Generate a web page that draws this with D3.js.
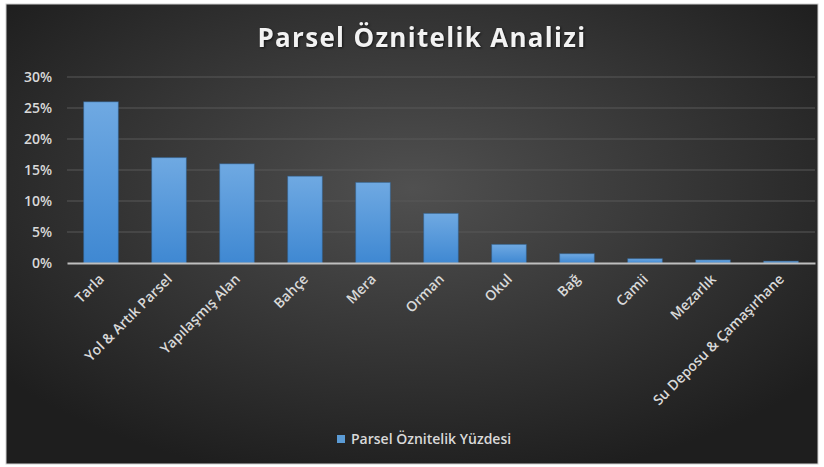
<!DOCTYPE html>
<html>
<head>
<meta charset="utf-8">
<script src="https://cdn.jsdelivr.net/npm/d3@7"></script>
<style>
  body { margin: 0; background: #fff; }
  svg { display: block; font-family: "Open Sans", "Noto Sans", sans-serif; }
</style>
</head>
<body>
<div id="chart"></div>
<script>
// categories and values (percent)
var categories = ["Tarla", "Yol & Artık Parsel", "Yapılaşmış Alan", "Bahçe", "Mera", "Orman", "Okul", "Bağ", "Camii", "Mezarlık", "Su Deposu & Çamaşırhane"];
var values = [26, 17, 16, 14, 13, 8, 3, 1.5, 0.7, 0.5, 0.3];
var yTicks = [0, 5, 10, 15, 20, 25, 30];
var seriesName = "Parsel Öznitelik Yüzdesi";
var title = "Parsel Öznitelik Analizi";

var W = 824, H = 467;
var margin = {top: 77, right: 9, bottom: 204, left: 67};
var width = W - margin.left - margin.right,
    height = H - margin.top - margin.bottom;

var svg = d3.select("#chart").append("svg")
  .attr("width", W)
  .attr("height", H);

var defs = svg.append("defs");
var bg = defs.append("radialGradient").attr("id", "bg")
  .attr("cx", "50%").attr("cy", "40%").attr("r", "65%");
bg.append("stop").attr("offset", "0%").attr("stop-color", "#505050");
bg.append("stop").attr("offset", "100%").attr("stop-color", "#1e1e1e");

var barGrad = defs.append("linearGradient").attr("id", "bar")
  .attr("x1", 0).attr("y1", 0).attr("x2", 0).attr("y2", 1);
barGrad.append("stop").attr("offset", "0%").attr("stop-color", "#6fa9e2");
barGrad.append("stop").attr("offset", "100%").attr("stop-color", "#3f88d2");

// background frame
svg.append("rect")
  .attr("x", 6).attr("y", 4).attr("width", 812).attr("height", 460)
  .attr("fill", "url(#bg)")
  .attr("stroke", "#d0d0d0").attr("stroke-width", 1);

// title
svg.append("text")
  .attr("x", 422).attr("y", 47)
  .attr("text-anchor", "middle")
  .attr("fill", "#f2f2f2")
  .attr("font-size", 26)
  .attr("font-weight", 700)
  .attr("letter-spacing", 1.3)
  .style("filter", "drop-shadow(1px 1px 1px rgba(0,0,0,0.6))")
  .text(title);

var g = svg.append("g")
  .attr("transform", "translate(" + margin.left + "," + margin.top + ")");

var x = d3.scaleBand()
  .domain(categories)
  .range([0, width])
  .paddingInner(0.49)
  .paddingOuter(0.245);

var y = d3.scaleLinear()
  .domain([0, 30])
  .range([height, 0]);

// gridlines
g.append("g")
  .selectAll("line")
  .data(yTicks.filter(function(d) { return d > 0; }))
  .enter().append("line")
    .attr("x1", 0).attr("x2", width)
    .attr("y1", function(d) { return y(d); })
    .attr("y2", function(d) { return y(d); })
    .attr("stroke", "#595959")
    .attr("stroke-width", 1);

// y axis
var yAxis = g.append("g")
  .call(d3.axisLeft(y).tickValues(yTicks).tickFormat(function(d) { return d + "%"; }).tickSize(0).tickPadding(15));
yAxis.select(".domain").remove();
yAxis.selectAll("text")
  .attr("fill", "#d9d9d9")
  .attr("font-size", 14)
  .attr("font-weight", 600)
  .style("font-family", "'Open Sans', sans-serif");

// bars
g.selectAll(".bar")
  .data(values)
  .enter().append("rect")
    .attr("class", "bar")
    .attr("x", function(d, i) { return x(categories[i]); })
    .attr("y", function(d) { return y(d); })
    .attr("width", x.bandwidth())
    .attr("height", function(d) { return height - y(d); })
    .attr("fill", "url(#bar)")
    .attr("stroke", "#2e5f8f")
    .attr("stroke-opacity", 0.5)
    .attr("stroke-width", 1);

// x axis
var xAxis = g.append("g")
  .attr("transform", "translate(0," + height + ")")
  .call(d3.axisBottom(x).tickSize(0).tickPadding(0));
xAxis.select(".domain")
  .attr("stroke", "#bfbfbf")
  .attr("stroke-width", 2);
xAxis.selectAll("text")
  .attr("fill", "#d9d9d9")
  .attr("font-size", 14)
  .attr("font-weight", 600)
  .style("font-family", "'Open Sans', sans-serif")
  .attr("text-anchor", "end")
  .attr("dy", 0)
  .attr("transform", "translate(4,17) rotate(-45)");

// legend
var legend = svg.append("g").attr("transform", "translate(337,435)");
legend.append("rect")
  .attr("width", 8).attr("height", 8)
  .attr("fill", "#5b9bd5");
legend.append("text")
  .attr("x", 14).attr("y", 9)
  .attr("fill", "#d9d9d9")
  .attr("font-size", 14)
  .attr("font-weight", 600)
  .text(seriesName);
</script>
</body>
</html>
